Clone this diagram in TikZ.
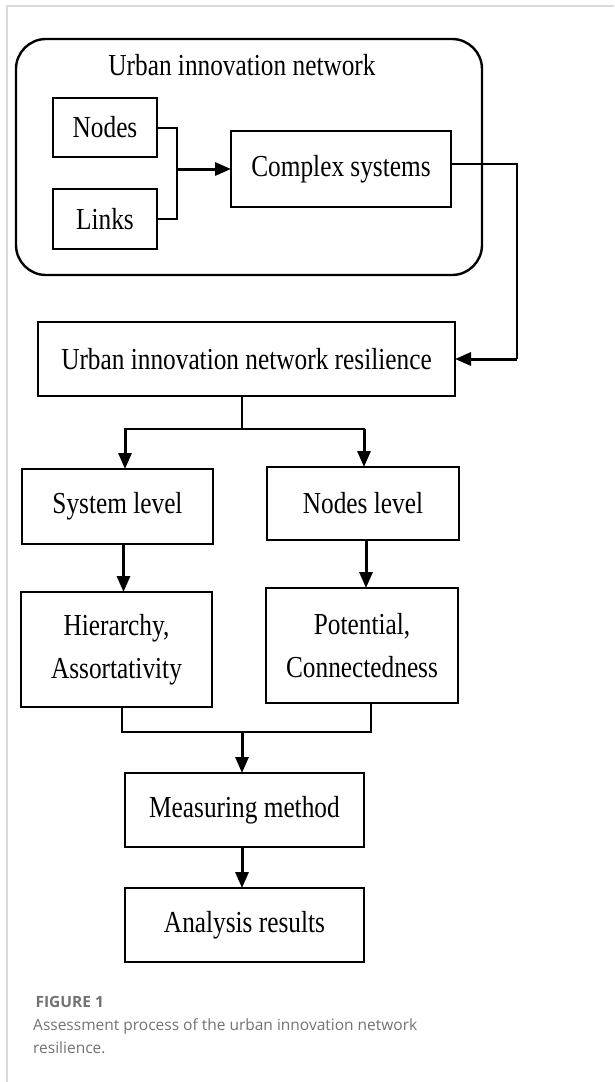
\documentclass[tikz,border=0pt]{standalone}
\usepackage{fontspec}
\setmainfont[FakeStretch=0.83]{Liberation Serif}
\newfontfamily\capfont{Open Sans}
\usetikzlibrary{arrows.meta}
\definecolor{framegray}{HTML}{DADADA}
\definecolor{capgray}{HTML}{727272}
\begin{document}
\begin{tikzpicture}[x=1pt,y=-1pt,
  stage/.style={draw, line width=2pt, inner sep=0pt, outer sep=0pt,
    align=center, font=\fontsize{30.5}{43}\selectfont},
  link/.style={line width=2pt},
  flow/.style={line width=3pt, -{Triangle[length=16pt,width=13pt]}},
  branchline/.style={line width=2.8pt}]
\useasboundingbox (0,0) rectangle (614,1082);
% page frame
\draw[framegray, line width=1.6pt] (7,1082) -- (7,6) -- (614,6);

% outer group
\draw[line width=2.4pt, rounded corners=30pt] (16,39) rectangle (482,275);
\node[font=\fontsize{30.5}{36}\selectfont] (title) at (242,65) {Urban innovation network};

% boxes (centre, width, height)
\node[stage, minimum width=104pt, minimum height=59pt] (nodes) at (105,127.5) {Nodes};
\node[stage, minimum width=104pt, minimum height=60pt] (links) at (105,219) {Links};
\node[stage, minimum width=220pt, minimum height=76pt] (complex) at (341,169) {Complex systems};
\node[stage, minimum width=417pt, minimum height=74pt] (resil) at (246.5,359) {Urban innovation network resilience};
\node[stage, minimum width=191pt, minimum height=75pt] (syslvl) at (117.5,506.5) {System level};
\node[stage, minimum width=192pt, minimum height=73pt] (nodlvl) at (363,503.5) {Nodes level};
\node[stage, minimum width=191pt, minimum height=115pt] (hier) at (116.5,649.5) {Hierarchy,\\Assortativity};
\node[stage, minimum width=192pt, minimum height=115pt] (pot) at (362,645.5) {Potential,\\Connectedness};
\node[stage, minimum width=239pt, minimum height=74pt] (meas) at (244.5,810) {Measuring method};
\node[stage, minimum width=239pt, minimum height=74pt] (anal) at (244.5,925) {Analysis results};

% junction points
\coordinate (merge) at (177,169);
\coordinate (turn) at (517,359);
\coordinate (split) at (242,429);
\coordinate (splitL) at (125,429);
\coordinate (splitR) at (364,429);
\coordinate (gather) at (242,732);
\coordinate (gatherL) at (122,732);
\coordinate (gatherR) at (371,732);

% connectors
\draw[link] (nodes.east) -| (merge) |- (links.east);
\draw[flow] (merge) -- (complex.west);
\draw[link] ([yshift=5pt]complex.east) -| (turn);
\draw[flow] (turn) -- (resil.east);
\draw[branchline] (split |- resil.south) -- (split);
\draw[branchline] ([xshift=-1.4pt]splitL) -- ([xshift=1.4pt]splitR);
\draw[flow] (splitL) -- (splitL |- syslvl.north);
\draw[flow] (splitR) -- (splitR |- nodlvl.north);
\draw[flow] ([xshift=6pt]syslvl.south) -- ([xshift=6pt]syslvl.south |- hier.north);
\draw[flow] ([xshift=3pt]nodlvl.south) -- ([xshift=3pt]nodlvl.south |- pot.north);
\draw[branchline] (gatherL |- hier.south) -- (gatherL) -- (gatherR) -- (gatherR |- pot.south);
\draw[flow] (gather) -- (gather |- meas.north);
\draw[flow] (meas.south -| gather) -- (gather |- anal.north);

% caption
\node[anchor=west, text=capgray, font=\capfont\fontsize{15.5}{18}\selectfont\bfseries] (fig) at (32,1002) {FIGURE 1};
\node[anchor=north west, text=capgray, align=left, inner sep=0pt,
  font=\capfont\fontsize{15.5}{23.5}\selectfont] (cap) at (33,1018)
  {Assessment process of the urban innovation network\\resilience.};
\end{tikzpicture}
\end{document}
